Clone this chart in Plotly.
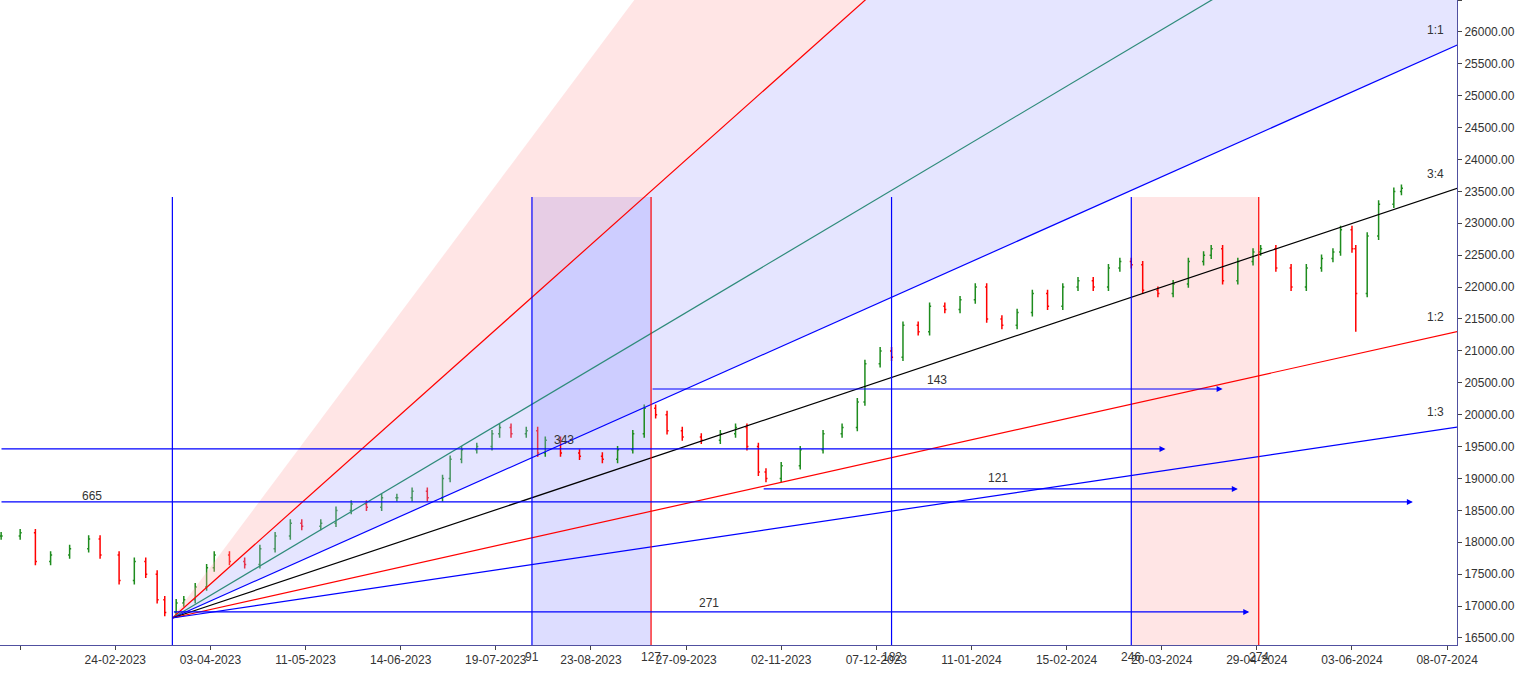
import plotly.graph_objects as go

# trading-day index (x) and closing prices
days = [-5, 0, 4, 8, 13, 18, 21, 26, 30, 33, 36, 38, 41, 43, 46, 49, 51, 55, 59, 63,
        67, 71, 74, 79, 83, 87, 91, 95, 99, 103, 107, 111, 113, 116, 120, 124, 126, 129,
        133, 136, 138, 142, 147, 153, 157, 161, 164, 167, 170, 174, 179, 184, 188, 191,
        194, 196, 200, 205, 211, 216, 220, 222, 226, 229, 232, 236, 239, 243, 247, 251,
        254, 258, 262, 266, 270, 274, 278, 282, 286, 289, 292, 295, 299, 303, 307, 311,
        313, 316, 320, 324, 326, 330, 334, 338, 342, 345, 347, 350, 351, 354, 357, 361, 363]
closes = [18100, 18150, 17700, 17800, 17900, 18050, 17800, 17400, 17700, 17500, 17100,
          16900, 17050, 17100, 17300, 17600, 17800, 17700, 17650, 17900, 18100, 18300,
          18250, 18300, 18500, 18600, 18550, 18700, 18700, 18800, 18700, 19000, 19300,
          19450, 19500, 19700, 19800, 19700, 19750, 19400, 19600, 19400, 19350, 19300,
          19450, 19700, 20100, 20000, 19750, 19650, 19600, 19700, 19800, 19500, 19100,
          19000, 19200, 19450, 19700, 19800, 20200, 20800, 21000, 20900, 21400, 21300,
          21700, 21650, 21800, 22000, 21500, 21400, 21600, 21900, 21700, 22000, 22100,
          22000, 22300, 22400, 22350, 21950, 21900, 22050, 22400, 22500, 22600, 22100,
          22400, 22550, 22600, 22300, 22000, 22300, 22450, 22550, 22900, 22600, 21900,
          22800, 23300, 23500, 23550]
low_override = {98: 21300}

tick_days = list(range(0, 376, 25))
tick_text = ["18-01-2023", "24-02-2023", "03-04-2023", "11-05-2023", "14-06-2023",
             "19-07-2023", "23-08-2023", "27-09-2023", "02-11-2023", "07-12-2023",
             "11-01-2024", "15-02-2024", "20-03-2024", "29-04-2024", "03-06-2024",
             "08-07-2024"]

origin_day, origin_px = 40, 16813
unit = 26.6
fan_ratios = [3, 2, 4/3, 1, 3/4, 1/2, 1/3]
fan_colors = ["rgba(0,0,0,0)", "red", "#2e8b7a", "blue", "black", "red", "blue"]
fan_labels = {1: "1:1", 3/4: "3:4", 1/2: "1:2", 1/3: "1:3"}

vlines = [40, 134.5, 165.8, 229, 292, 325.5]
vcolors = ["blue", "blue", "red", "blue", "blue", "red"]
vlabels = ["", "91", "127", "182", "246", "274"]
vtop = 23412

hlines = [(-5.3, 301, 19463, ""), (-5.3, 366, 18632, "665"), (40, 323, 16908, "271"),
          (165.8, 316, 20403, "143"), (195, 320, 18836, "121")]
hlabel_pos = {"665": (19, 18720), "271": (181, 17050), "143": (241, 20550), "121": (257, 19000)}

x0, x1 = -5.3, 377.6
y0, y1 = 16390, 26500

opens = [closes[0]] + closes[:-1]
highs = [max(o, c) + 60 for o, c in zip(opens, closes)]
lows = [min(o, c) - 60 for o, c in zip(opens, closes)]
for i, v in low_override.items():
    lows[i] = v

fig = go.Figure()

def fan_y(r, d):
    return origin_px + unit * r * (d - origin_day)

xs = [origin_day, 600]
# fills between fan lines
fill_pairs = [(3, 2, "rgba(255,170,170,0.3)"), (2, 1, "rgba(170,170,255,0.3)")]
for ra, rb, col in fill_pairs:
    fig.add_trace(go.Scatter(x=xs + xs[::-1], y=[fan_y(ra, d) for d in xs] + [fan_y(rb, d) for d in xs[::-1]],
                             fill="toself", fillcolor=col, line=dict(width=0), mode="lines",
                             hoverinfo="skip", showlegend=False))

fig.add_shape(type="rect", x0=vlines[1], x1=vlines[2], y0=y0, y1=vtop,
              fillcolor="rgba(120,120,255,0.25)", line_width=0, layer="below")
fig.add_shape(type="rect", x0=vlines[4], x1=vlines[5], y0=y0, y1=vtop,
              fillcolor="rgba(255,170,170,0.3)", line_width=0, layer="below")

for r, c in zip(fan_ratios, fan_colors):
    fig.add_trace(go.Scatter(x=xs, y=[fan_y(r, d) for d in xs], mode="lines",
                             line=dict(color=c, width=1.2), hoverinfo="skip", showlegend=False))
    if r in fan_labels:
        fig.add_annotation(x=x1 - 3, y=fan_y(r, x1) + 230, text=fan_labels[r], showarrow=False,
                           xanchor="right", font=dict(size=12, color="#333"))

for d, c, lab in zip(vlines, vcolors, vlabels):
    fig.add_shape(type="line", x0=d, x1=d, y0=y0, y1=vtop, line=dict(color=c, width=1.2))
    if lab:
        fig.add_annotation(x=d, y=y0, yshift=-12, text=lab, showarrow=False,
                           font=dict(size=12, color="#333"))

for xa, xb, p, lab in hlines:
    fig.add_annotation(x=xb, y=p, ax=xa, ay=p, xref="x", yref="y", axref="x", ayref="y",
                       text="", showarrow=True, arrowhead=2, arrowsize=1, arrowwidth=1.2,
                       arrowcolor="blue")
    if lab:
        lx, ly = hlabel_pos[lab]
        fig.add_annotation(x=lx, y=ly, text=lab, showarrow=False, font=dict(size=12, color="#333"))
fig.add_annotation(x=143, y=19600, text="343", showarrow=False, font=dict(size=12, color="#333"))

fig.add_trace(go.Ohlc(x=days, open=opens, high=highs, low=lows, close=closes,
                      increasing_line_color="#1e8c1e", decreasing_line_color="#ff0000",
                      line_width=1.5, tickwidth=0.4, showlegend=False))

fig.update_layout(
    width=1521, height=678, margin=dict(l=0, r=64, t=0, b=33),
    plot_bgcolor="white", paper_bgcolor="white",
    font=dict(family="Liberation Sans", size=12, color="#333"),
    xaxis=dict(range=[x0, x1], tickvals=tick_days, ticktext=tick_text, showgrid=False,
               rangeslider=dict(visible=False), ticks="outside", ticklen=4,
               showline=True, linecolor="#5050a0", zeroline=False),
    yaxis=dict(range=[y0, y1], side="right", dtick=500, tickformat=".2f", showgrid=False,
               ticks="outside", ticklen=4, showline=True, linecolor="#5050a0", zeroline=False),
)

fig.write_html("out.html", config={"displayModeBar": False},
               post_script="document.body.style.margin='0';document.body.style.overflow='hidden';")
